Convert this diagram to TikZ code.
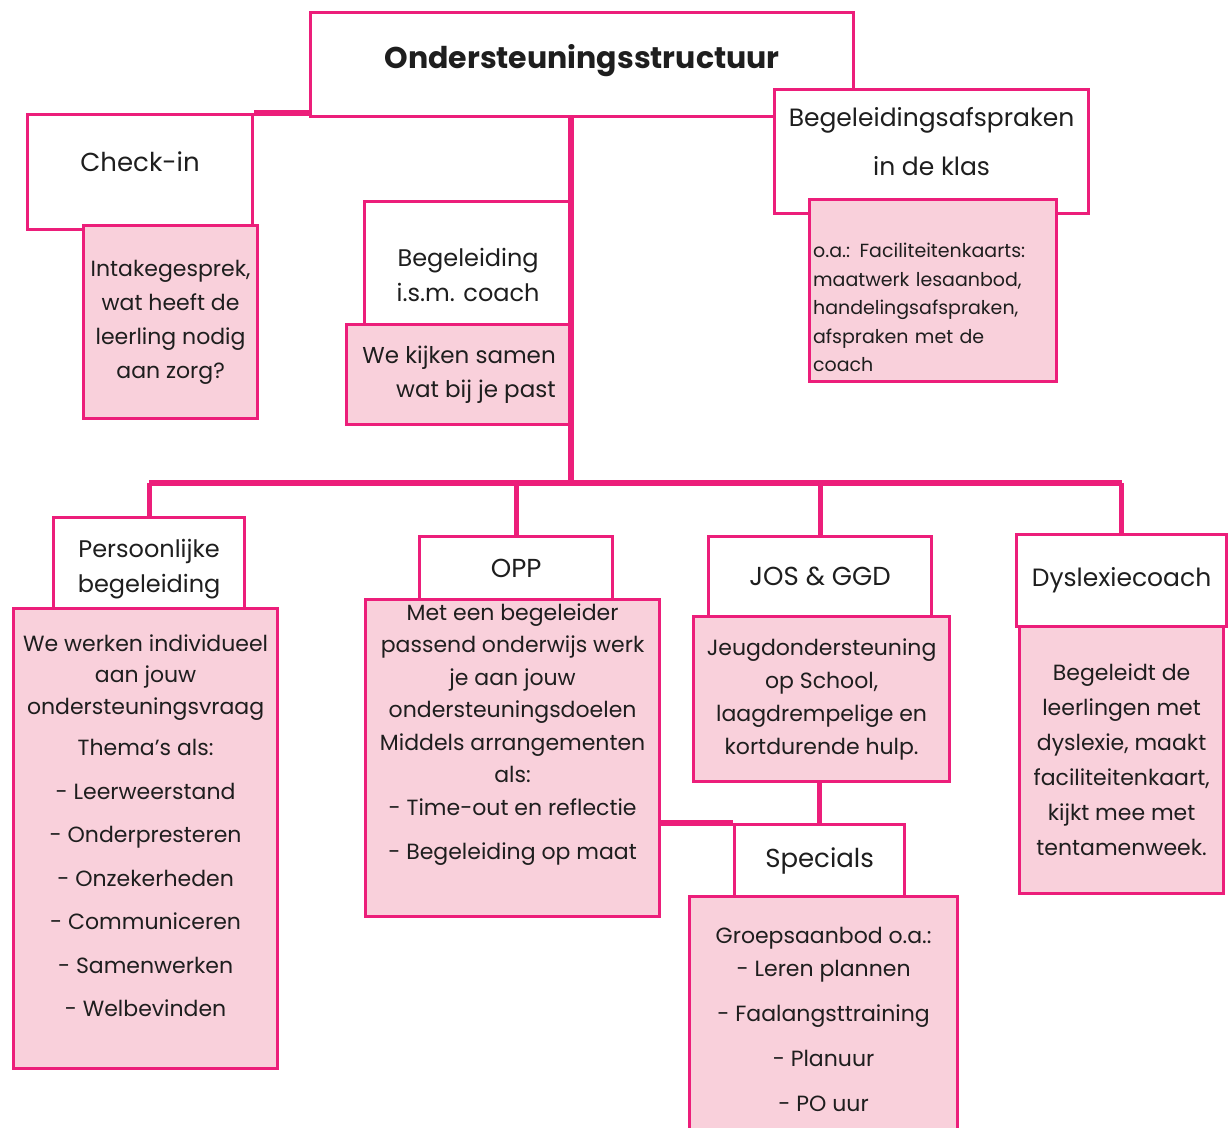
\documentclass[tikz,border=0pt]{standalone}
\usepackage{fontspec}
\setmainfont{Poppins}
\definecolor{roze}{RGB}{236,30,122}
\definecolor{rozevul}{RGB}{249,208,219}
\definecolor{tekst}{RGB}{30,30,30}

\begin{document}
\begin{tikzpicture}[x=0.5pt,y=-0.5pt,
    kop/.style={draw=roze,line width=1.6pt,fill=white,anchor=north west,inner sep=2pt,align=center,text=tekst,font=\fontsize{12.5}{17.5}\selectfont},
    inhoud/.style={kop,fill=rozevul,font=\fontsize{11}{16.5}\selectfont},
    lijn/.style={draw=roze,line width=2.6pt}]
  \useasboundingbox (0,0) rectangle (1228,1128);

  % top row
  \node[kop,minimum width=271.5pt,minimum height=52pt,font=\fontsize{15}{18}\selectfont\bfseries] (titel) at (309,11) {Ondersteuningsstructuur\\[-10pt]};
  \node[kop,minimum width=112.5pt,minimum height=57.5pt,font=\fontsize{13}{18}\selectfont] (checkin) at (26,113) {Check-in\\[-8pt]};
  \node[inhoud,minimum width=87pt,minimum height=96.5pt,font=\fontsize{11}{17}\selectfont] (intake) at (82,224) {Intakegesprek,\\wat heeft de\\leerling nodig\\aan zorg?};
  \node[kop,minimum width=103.5pt,minimum height=61.5pt,font=\fontsize{12}{17.5}\selectfont] (coach) at (363,200) {\rule{0pt}{21pt}Begeleiding\\i.s.m. coach};
  \node[inhoud,minimum width=112.5pt,minimum height=50pt,align=right,font=\fontsize{11.5}{17}\selectfont] (samen) at (345,323) {We kijken samen\\wat bij je past};
  \node[kop,minimum width=157pt,minimum height=62pt,font=\fontsize{12.5}{24.5}\selectfont] (afspraken) at (773,88) {Begeleidingsafspraken\\in de klas\\[-14.5pt]};
  \node[inhoud,minimum width=123.5pt,minimum height=91pt,align=left,text width=120pt,inner sep=1.5pt,font=\fontsize{9.5}{14.25}\selectfont] (kaarten) at (808,198) {\rule{0pt}{24pt}o.a.: Faciliteitenkaarts:\\maatwerk lesaanbod,\\handelingsafspraken,\\afspraken met de\\coach};

  % bottom row
  \node[kop,minimum width=95.5pt,minimum height=45.5pt,font=\fontsize{12}{17.5}\selectfont] (persoon) at (52,516) {\rule{0pt}{15pt}Persoonlijke\\begeleiding};
  \node[inhoud,minimum width=132pt,minimum height=230pt,font=\fontsize{11}{15.75}\selectfont] (persoonbody) at (12,607) {We werken individueel\\aan jouw\\ondersteuningsvraag\\[5pt]
    Thema's als:\\[6pt] - Leerweerstand\\[6pt] - Onderpresteren\\[6pt] - Onzekerheden\\[6pt] - Communiceren\\[6pt] - Samenwerken\\[6pt] - Welbevinden\\[-3pt]};
  \node[kop,minimum width=96.5pt,minimum height=31.5pt,font=\fontsize{13}{18}\selectfont] (opp) at (418,535) {OPP};
  \node[inhoud,minimum width=147pt,minimum height=158.5pt,font=\fontsize{11}{16.25}\selectfont] (oppbody) at (364,598) {Met een begeleider\\passend onderwijs werk\\je aan jouw\\ondersteuningsdoelen\\Middels arrangementen\\als:\\- Time-out en reflectie\\[6pt]- Begeleiding op maat\\[10pt]};
  \node[kop,minimum width=111.5pt,minimum height=40pt,font=\fontsize{13}{18}\selectfont] (jos) at (707,535) {JOS \& GGD};
  \node[inhoud,minimum width=128pt,minimum height=82.5pt,font=\fontsize{11}{16.5}\selectfont] (josbody) at (692,615) {Jeugdondersteuning\\op School,\\laagdrempelige en\\kortdurende hulp.};
  \node[kop,minimum width=85pt,minimum height=36pt,font=\fontsize{13}{18}\selectfont] (specials) at (733,823) {Specials};
  \node[inhoud,minimum width=134pt,minimum height=122.5pt,font=\fontsize{11}{16.5}\selectfont] (specialsbody) at (688,895) {Groepsaanbod o.a.:\\- Leren plannen\\[6pt] - Faalangsttraining\\[6pt] - Planuur\\[6pt] - PO uur};
  \node[kop,minimum width=105pt,minimum height=46pt,font=\fontsize{12.5}{18}\selectfont] (dys) at (1015,533) {Dyslexiecoach};
  \node[inhoud,minimum width=102pt,minimum height=133.5pt,font=\fontsize{11}{17.5}\selectfont] (dysbody) at (1018,625) {Begeleidt de\\leerlingen met\\dyslexie, maakt\\faciliteitenkaart,\\kijkt mee met\\tentamenweek.};

  % connectors
  \coordinate (stam) at (571,483);
  \draw[lijn] (checkin.north east) -- (checkin.north east -| titel.west);
  \draw[lijn] (stam |- titel.south) -- (stam);
  \draw[lijn] (persoon.north |- stam) -- (dys.north |- stam);
  \foreach \k in {persoon,opp,jos,dys}
    \draw[lijn] (\k.north) -- (\k.north |- stam);
  \draw[lijn] (specials.north |- josbody.south) -- (specials.north);
  \draw[lijn] (oppbody.east |- specials.north west) -- (specials.north west);
\end{tikzpicture}
\end{document}
